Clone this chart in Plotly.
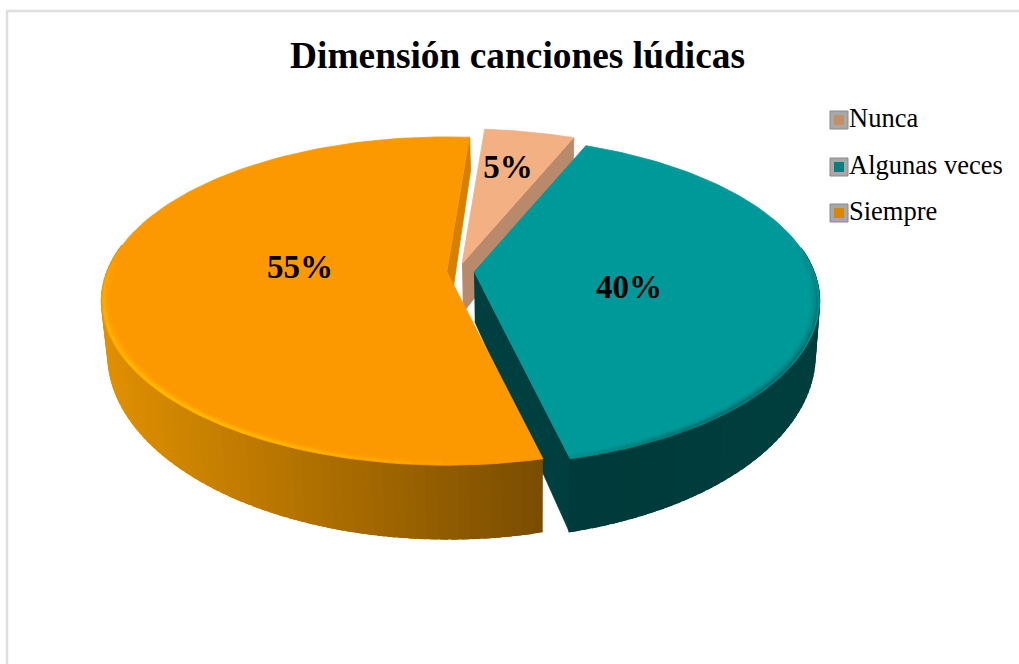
import numpy as np
import plotly.graph_objects as go

# ---- data ----
categories = ["Nunca", "Algunas veces", "Siempre"]
values = [5, 40, 55]
labels = ["5%", "40%", "55%"]
title_text = "Dimensión canciones lúdicas"

# ---- style / projection of the tilted pie ----
FONT = "Liberation Serif"
ROT, R, F, P = 4.5, 340, 159, 0.177
tips = [(462, 264), (474, 272), (447, 272)]
top_col = ["#F2B083", "#009999", "#FD9900"]
label_xy = [(508, 170), (629, 290), (300, 270)]
cut_col = ["#B8896A", "#003F3F", "#D58000"]


def top(tip, deg, k=1.0):
    t = np.radians(np.asarray(deg, float))
    X, Y = np.sin(t), -np.cos(t)
    s = 1 / (1 - P * Y)
    return tip[0] + k * R * X * s, tip[1] + k * F * Y * s


def low(x, y):
    return 530 + 0.985 * (np.asarray(x) - 530), 1.124 * np.asarray(y) + 16


def mix(a, b, f):
    f = float(np.clip(f, 0, 1))
    ca = [int(a[i:i + 2], 16) for i in (1, 3, 5)]
    cb = [int(b[i:i + 2], 16) for i in (1, 3, 5)]
    return "rgb(%d,%d,%d)" % tuple(ca[i] + (cb[i] - ca[i]) * f for i in range(3))


def poly(fig, xs, ys, col, name, lw=0.8):
    fig.add_trace(go.Scatter(x=list(xs), y=list(ys), mode="lines", fill="toself",
                             fillcolor=col, line=dict(color=col, width=lw),
                             hoverinfo="skip", showlegend=False, name=name))


def quad_from_edge(fig, tip, deg, col, name):
    ex, ey = top(tip, deg)
    xs = [tip[0], float(ex)]
    ys = [tip[1], float(ey)]
    lx, ly = low(xs, ys)
    poly(fig, xs + list(lx[::-1]), ys + list(ly[::-1]), col, name)


def outer_wall(fig, tip, a0, a1, colour_at, name):
    edges = np.arange(a0, a1 + 1.5, 1.5)
    edges[-1] = a1
    for a, b in zip(edges[:-1], edges[1:]):
        if np.cos(np.radians((a + b) / 2)) > 0.15:
            continue
        x, y = top(tip, np.array([a, min(b + 1.0, a1)]))
        lx, ly = low(x, y)
        poly(fig, list(x) + list(lx[::-1]), list(y) + list(ly[::-1]), colour_at(x.mean()), name, 1.5)


def rim(fig, tip, a_from, a_to, rgb, peak, name):
    # soft bevel: short overlapping strokes inside the outer edge, fading at both ends
    cuts = np.linspace(a_from, a_to, 25)
    for a, b in zip(cuts[:-1], cuts[1:]):
        u = ((a + b) / 2 - a_from) / (a_to - a_from)
        env = np.sin(np.pi * u)
        for k, w, frac in ((0.994, 2.5, 1.0), (0.988, 3, 0.45), (0.981, 3.5, 0.18)):
            rx, ry = top(tip, np.linspace(a, b, 8), k)
            fig.add_trace(go.Scatter(x=rx, y=ry, mode="lines",
                                     line=dict(color="rgba(%d,%d,%d,%.3f)" % (*rgb, peak * env * frac), width=w),
                                     hoverinfo="skip", showlegend=False, name=name))


def top_face(fig, tip, a0, a1, col, name):
    x, y = top(tip, np.linspace(a0, a1, 120))
    poly(fig, [tip[0]] + list(x), [tip[1]] + list(y), col, name)


edges = ROT + 360 * np.cumsum([0] + values) / sum(values)

fig = go.Figure()

# peach slice
a0, a1 = edges[0], edges[1]
quad_from_edge(fig, tips[0], a1, cut_col[0], categories[0])
top_face(fig, tips[0], a0, a1, top_col[0], categories[0])

# teal slice
a0, a1 = edges[1], edges[2]
quad_from_edge(fig, tips[1], a1, cut_col[1], categories[1])
outer_wall(fig, tips[1], a0, a1, lambda x: mix("#003A3A", "#003F3E", (x - 570) / 250), categories[1])
top_face(fig, tips[1], a0, a1, top_col[1], categories[1])
rim(fig, tips[1], 80, a1 + 4, (0, 75, 75), 0.5, categories[1])

# orange slice
a0, a1 = edges[2], edges[3]
outer_wall(fig, tips[2], a0, a1, lambda x: mix("#E09000", "#7A4D00", (x - 105) / 435), categories[2])
quad_from_edge(fig, tips[2], a1, cut_col[2], categories[2])
top_face(fig, tips[2], a0, a1, top_col[2], categories[2])
rim(fig, tips[2], a0 + 10, 278, (255, 190, 0), 0.9, categories[2])

# data labels
fig.add_trace(go.Scatter(x=[p[0] for p in label_xy], y=[p[1] for p in label_xy], text=labels,
                         mode="text", textfont=dict(family=FONT, size=33, color="#000000"),
                         texttemplate="<b>%{text}</b>", hoverinfo="skip", showlegend=False))

# legend (bevelled key + text)
leg_y = [120, 167, 213]
fig.add_trace(go.Scatter(x=[839] * 3, y=leg_y, mode="markers",
                         marker=dict(symbol="square", size=18, color="#A8A8A8",
                                     line=dict(color="#8A8A8A", width=1)),
                         hoverinfo="skip", showlegend=False))
fig.add_trace(go.Scatter(x=[839] * 3, y=leg_y, mode="markers",
                         marker=dict(symbol="square", size=10, color=["#C58F68", "#008080", "#D98600"]),
                         hoverinfo="skip", showlegend=False))
fig.add_trace(go.Scatter(x=[849] * 3, y=leg_y, mode="text", text=categories, textposition="middle right",
                         textfont=dict(family=FONT, size=26.5, color="#000000"),
                         hoverinfo="skip", showlegend=False))

fig.update_layout(
    width=1019, height=664, autosize=False,
    margin=dict(l=0, r=0, t=0, b=0),
    paper_bgcolor="#FFFFFF", plot_bgcolor="#FFFFFF",
    showlegend=False,
    xaxis=dict(range=[0, 1019], visible=False, fixedrange=True),
    yaxis=dict(range=[664, 0], visible=False, fixedrange=True),
    shapes=[
        dict(type="line", xref="x", yref="y", x0=7, x1=7, y0=11, y1=664, line=dict(color="#DEDEDE", width=2.5)),
        dict(type="line", xref="x", yref="y", x0=6, x1=1019, y0=11, y1=11, line=dict(color="#DEDEDE", width=2.5)),
    ],
    annotations=[dict(text="<b>%s</b>" % title_text, x=517, y=55, xref="x", yref="y",
                      showarrow=False, font=dict(family=FONT, size=37.4, color="#000000"))],
)

fig.write_html("out.html", config={"displayModeBar": False},
               post_script="document.body.style.margin='0';document.body.style.overflow='hidden';")
